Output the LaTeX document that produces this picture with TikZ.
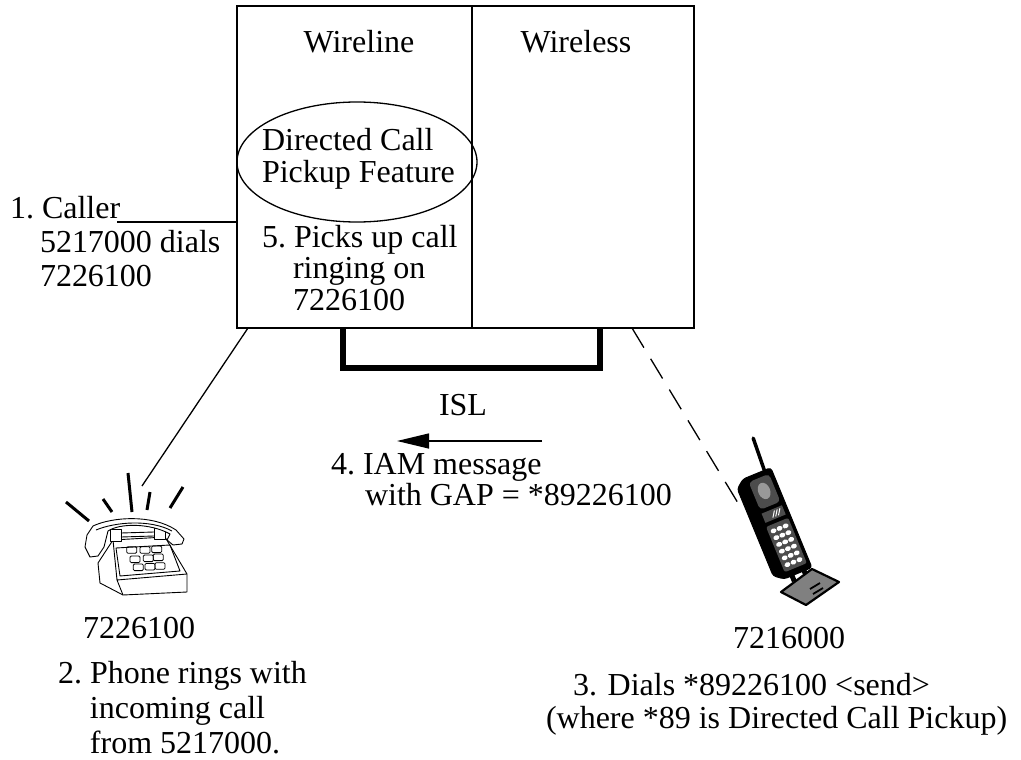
\documentclass[tikz,border=0pt]{standalone}
\usepackage{fontspec}
\setmainfont{Liberation Serif}
\usetikzlibrary{arrows.meta,shapes.geometric}
\begin{document}
\begin{tikzpicture}[x=1pt,y=-1pt,
  txt/.style={inner sep=0pt,outer sep=0pt,anchor=base west,align=left,font=\fontsize{32}{34}\selectfont},
  ctxt/.style={txt,anchor=base},
  frame/.style={draw,line width=1.3pt,inner sep=0pt,outer sep=0pt,anchor=north west},
  thin line/.style={line width=1.3pt},
  link/.style={line width=6.5pt,line join=miter},
  ring/.style={line width=3pt},
  outline/.style={line width=0.9pt,line join=round},
  key/.style={line width=0.8pt,rounded corners=1.2pt},
]
\useasboundingbox (0,0) rectangle (1021,760);
% multi-line labels below are placed by the baseline of their last line

% the switch, split into its wireline and wireless halves
\node[frame,minimum width=235pt,minimum height=322pt] (wireline) at (237,6) {};
\node[frame,minimum width=222pt,minimum height=322pt] (wireless) at (472,6) {};
\node[ctxt] (wltitle) at (359,53) {Wireline};
\node[ctxt] (wstitle) at (576,53) {Wireless};

\node[draw,ellipse,thin line,minimum width=240pt,minimum height=120pt,inner sep=0pt] (feature) at (357,162) {};
\node[txt,font=\fontsize{32}{32}\selectfont] (featurelbl) at (262,182) {Directed Call\\Pickup Feature};
\node[txt,font=\fontsize{32}{31.5}\selectfont] (pickup) at (262,310) {5.~Picks up call\\\hspace*{31pt}ringing on\\\hspace*{31pt}7226100};

% step 1: the caller
\node[txt] (caller) at (10,286) {1.~Caller\\\hspace*{30pt}5217000 dials\\\hspace*{30pt}7226100};
\coordinate (callertail) at (117,222);
\draw[thin line] (callertail) -- (callertail -| wireline.west);

% inter-system link
\coordinate (islA) at (343,328);
\coordinate (islB) at (600,328);
\draw[link] (islA) -- ++(0,40) -| (islB);
\node[ctxt] (isl) at (463,415) {ISL};
\coordinate (msgstart) at (542,441);
\coordinate (msgend) at (397,441);
\draw[thin line,-{Triangle[length=32pt,width=15pt]}] (msgstart) -- (msgend);
\node[txt,font=\fontsize{32}{28}\selectfont] (iam) at (331,505) {4.~IAM message\\\hspace*{34pt}with GAP = *89226100};

% desk phone
\coordinate (drop) at (248,328);
\coordinate (phonetop) at (142,486);
\draw[thin line] (drop) -- (phonetop);

\filldraw[outline,fill=white] (113,540) -- (165,537) -- (187,574) -- (187,592) -- (123,595) -- (100,583) -- (98,563) -- cycle;
\draw[outline] (113,540) -- (117,580) -- (187,574) (117,580) -- (123,595);
\draw[outline] (116,548) -- (170,545) -- (180,571) -- (120,576) -- cycle;
\foreach \x/\y in {131.7/550,145/550,156.7/549.3,135/559.3,148.3/558.3,158.3/557.3,138.3/567.3,150/566.7,160/566}
  \draw[key] (\x-5,\y-3.3) rectangle (\x+5,\y+3.3);
\filldraw[outline,fill=white] (110,529) rectangle (121,541);
\filldraw[outline,fill=white] (154,528) rectangle (165,539);
\draw[outline] (121,533) -- (154,532) (121,537) -- (154,536);
\filldraw[outline,fill=white] (93,526) .. controls (112,517) and (152,514) .. (176,530) -- (184,539) -- (182,544) -- (173,545) -- (167,540) -- (170,534) .. controls (150,523) and (120,523) .. (108,531) -- (104,547) -- (98,556) -- (90,557) -- (85,547) -- (87,535) -- cycle;
\draw[outline] (96,530) .. controls (115,522) and (150,519) .. (172,531);
\draw[ring] (66,502) -- (89,521);
\draw[ring] (103,499) -- (112,512);
\draw[ring] (128,473) -- (132,512);
\draw[ring] (150,492) -- (147,510);
\draw[ring] (183,487) -- (170,508);

\node[txt] (wirednum) at (83,638) {7226100};
\node[txt,font=\fontsize{32}{35}\selectfont] (rings) at (58,753) {2.~Phone rings with\\\hspace*{32pt}incoming call\\\hspace*{32pt}from 5217000.};

% mobile handset
\coordinate (radio) at (632,328);
\coordinate (handset) at (738,503);
\draw[thin line,dash pattern=on 23pt off 13pt] (radio) -- (handset);

\begin{scope}[shift={(779,527)},rotate=22.4]
  \filldraw[line width=1pt,rounded corners=3pt] (-15,-58) -- (15,-58) -- (15,50) -- (-15,50) -- (-24,43) -- (-24,-51) -- cycle;
  \fill[black!70,rounded corners=4pt] (-11,-53) rectangle (11,-23);
  \fill[black!40] (0,-39) ellipse (6 and 8.5);
  \fill[black!70] (-11,-19) rectangle (11,-9);
  \draw[white,line width=1pt] (-2,-11) -- (2,-17) (1,-11) -- (5,-17) (4,-11) -- (8,-17);
  \fill[black!70,rounded corners=2pt] (-12,-5) rectangle (12,44);
  \foreach \r in {0,...,5}
    \foreach \c in {-6.5,0,6.5}
      \fill[white] (\c,1.5+7.3*\r) ellipse (3 and 2.4);
  \draw[line width=3.5pt,line cap=round] (8,-57) -- (10,-92);
  \fill (-9,49) rectangle (-4,56) (4,49) rectangle (9,56);
\end{scope}
\filldraw[fill=black!50,line width=2.2pt,line join=round] (781,592) -- (812,569) -- (839,582) -- (806,605) -- cycle;
\draw[line width=1.8pt] (810,589) -- (820,583) (813,594) -- (823,588);

\node[txt] (mobilenum) at (733,648) {7216000};
\node[txt,font=\fontsize{32}{33}\selectfont] (dials) at (546,728) {\hspace*{27pt}3. Dials *89226100 <send>\\(where *89 is Directed Call Pickup)};
\end{tikzpicture}
\end{document}
